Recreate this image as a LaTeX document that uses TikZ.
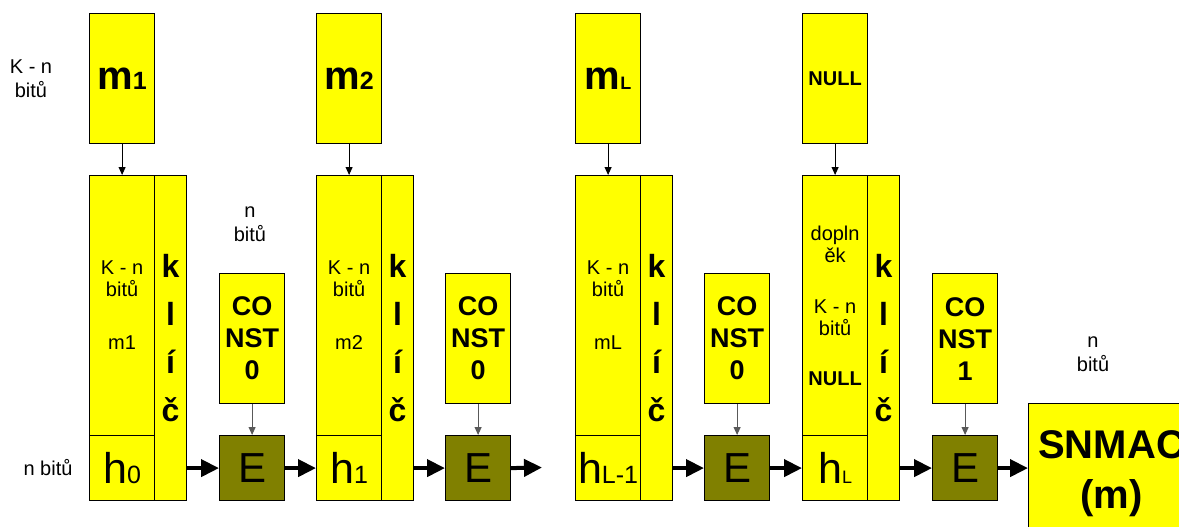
\documentclass[tikz,border=0pt]{standalone}
\usepackage{fontspec}
\setmainfont{Liberation Sans}
\usetikzlibrary{arrows.meta, positioning}
\definecolor{zluta}{RGB}{255,255,0}
\definecolor{olivova}{RGB}{128,128,0}

\newcommand{\velke}[3]{{\fontsize{#1}{#1}\selectfont #2}{\fontsize{25}{25}\selectfont #3}}

\tikzset{
  blok/.style={draw, fill=zluta, line width=1.2pt, inner sep=0pt, anchor=north west, align=center},
  zprava/.style={blok, minimum width=65pt, minimum height=130pt, font=\bfseries},
  data/.style={blok, minimum width=65pt, minimum height=260pt, font=\fontsize{20}{22}\selectfont},
  hodnota/.style={blok, minimum width=65pt, minimum height=65pt},
  klic/.style={blok, minimum width=32pt, minimum height=325pt, font=\fontsize{32}{48}\selectfont\bfseries},
  konst/.style={blok, minimum width=65pt, minimum height=130pt, font=\fontsize{27}{32}\selectfont\bfseries},
  sifra/.style={blok, fill=olivova, minimum width=65pt, minimum height=65pt, font=\fontsize{42}{42}\selectfont},
  popis/.style={align=center, font=\fontsize{20}{24}\selectfont},
  tenka/.style={-{Triangle[length=8pt,width=7pt]}, line width=0.9pt},
  silna/.style={-{Triangle[length=18pt,width=17pt]}, line width=4pt},
}

\begin{document}
\begin{tikzpicture}[x=1pt, y=-1pt]
  \clip (0,0) rectangle (1179,527);

  % popisky
  \node[popis] (lkn) at (31,79) {K - n\\bitů};
  \node[popis] (ln1) at (250,224) {n\\bitů};
  \node[popis] (lnb) at (48,468) {n bitů};
  \node[popis] (ln2) at (1093,354) {n\\bitů};

  % bloky zprav
  \node[zprava] (m1) at (89,13) {\velke{40}{m}{1}};
  \node[zprava] (m2) at (316,13) {\velke{40}{m}{2}};
  \node[zprava] (mL) at (575,13) {\velke{40}{m}{\fontsize{18}{18}\selectfont L}};
  \node[zprava, font=\fontsize{20}{20}\selectfont\bfseries] (mN) at (802,13) {NULL};

  % blok 1
  \node[data] (d1) at (89,175) {K - n\\bitů\\[31pt]m1};
  \node[hodnota] (h1) at (89,435) {\velke{43}{h}{0}};
  \node[klic] (k1) at (154,175) {k\\l\\í\\č};
  \node[konst] (c1) at (219,273) {CO\\NST\\0};
  \node[sifra] (e1) at (219,435) {E};

  % blok 2
  \node[data] (d2) at (316,175) {K - n\\bitů\\[31pt]m2};
  \node[hodnota] (h2) at (316,435) {\velke{43}{h}{1}};
  \node[klic] (k2) at (381,175) {k\\l\\í\\č};
  \node[konst] (c2) at (445,273) {CO\\NST\\0};
  \node[sifra] (e2) at (445,435) {E};
  \coordinate (v2) at (542,467.5);

  % blok L
  \node[data] (d3) at (575,175) {K - n\\bitů\\[31pt]mL};
  \node[hodnota] (h3) at (575,435) {\velke{43}{h}{L-1}};
  \node[klic] (k3) at (640,175) {k\\l\\í\\č};
  \node[konst] (c3) at (704,273) {CO\\NST\\0};
  \node[sifra] (e3) at (704,435) {E};

  % doplnek
  \node[data] (d4) at (802,175) {dopln\\ěk\\[29pt]K - n\\bitů\\[28pt]{\bfseries NULL}};
  \node[hodnota] (h4) at (802,435) {\velke{43}{h}{\fontsize{18}{18}\selectfont L}};
  \node[klic] (k4) at (867,175) {k\\l\\í\\č};
  \node[konst] (c4) at (932,273) {CO\\NST\\1};
  \node[sifra] (e4) at (932,435) {E};

  \node[blok, minimum width=166pt, minimum height=140pt, font=\fontsize{40}{50}\selectfont\bfseries,
        text width=160pt] (mac) at (1028,403) {SNMAC\\(m)};

  % sipky
  \draw[tenka] (m1) -- (d1);
  \draw[tenka] (m2) -- (d2);
  \draw[tenka] (mL) -- (d3);
  \draw[tenka] (mN) -- (d4);
  \draw[tenka, black!65] (c1) -- (e1);
  \draw[tenka, black!65] (c2) -- (e2);
  \draw[tenka, black!65] (c3) -- (e3);
  \draw[tenka, black!65] (c4) -- (e4);
  \draw[silna] (e1.west -| k1.east) -- (e1.west);
  \draw[silna] (e1.east) -- (h2.west);
  \draw[silna] (e2.west -| k2.east) -- (e2.west);
  \draw[silna] (e2.east) -- (v2);
  \draw[silna] (e3.west -| k3.east) -- (e3.west);
  \draw[silna] (e3.east) -- (h4.west);
  \draw[silna] (e4.west -| k4.east) -- (e4.west);
  \draw[silna] (e4.east) -- (e4.east -| mac.west);
\end{tikzpicture}
\end{document}
